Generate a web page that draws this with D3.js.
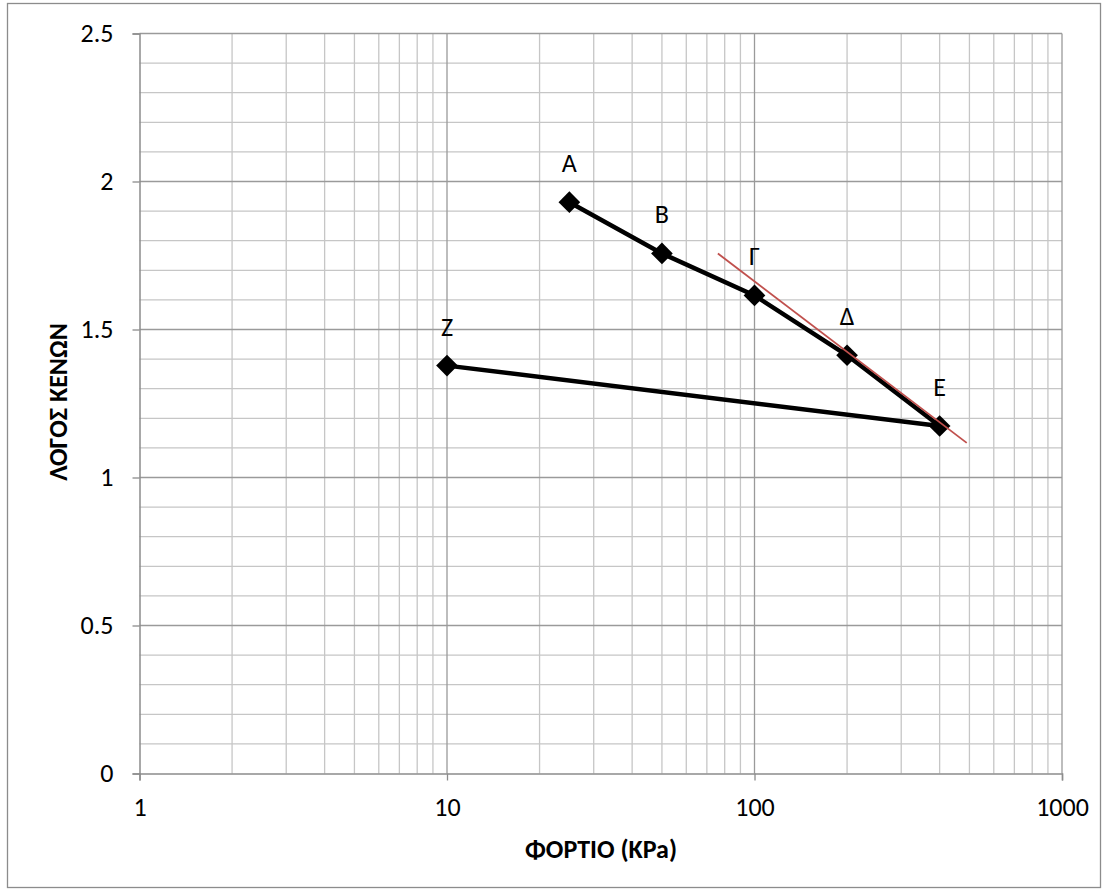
<!DOCTYPE html>
<html>
<head>
<meta charset="utf-8">
<script src="https://cdn.jsdelivr.net/npm/d3@7"></script>
<style>
  body { margin: 0; background: #fff; }
  text { font-family: Carlito, Calibri, "Noto Sans", sans-serif; }
</style>
</head>
<body>
<svg width="1107" height="892"></svg>
<script>
// point labels, loads (kPa) and void ratios
var labels = ["A", "B", "Γ", "Δ", "E", "Z"];
var loads  = [25, 50, 100, 200, 400, 10];
var voids  = [1.93, 1.757, 1.615, 1.413, 1.174, 1.378];

// red tangent line end points
var tangentX = [76, 490];
var tangentY = [1.757, 1.117];

var xTicks = [1, 10, 100, 1000];
var yTicks = [0, 0.5, 1, 1.5, 2, 2.5];

var FS = 26;

var svg = d3.select("svg");

// outer frame
svg.append("rect")
  .attr("x", 7.5).attr("y", 3.5)
  .attr("width", 1093).attr("height", 884)
  .attr("fill", "#fff")
  .attr("stroke", "#8c8c8c")
  .attr("stroke-width", 1.3);

var x = d3.scaleLog().domain([1, 1000]).range([139.5, 1062]);
var y = d3.scaleLinear().domain([0, 2.5]).range([773.5, 33.5]);

var grid = svg.append("g");

// minor x grid 2..9 in each decade
var minorX = [];
[1, 10, 100].forEach(function (d) {
  for (var k = 2; k <= 9; k++) minorX.push(d * k);
});
grid.selectAll(".mx").data(minorX).enter().append("line")
  .attr("x1", function (d) { return x(d); })
  .attr("x2", function (d) { return x(d); })
  .attr("y1", y(0)).attr("y2", y(2.5))
  .attr("stroke", "#c6c6c6").attr("stroke-width", 1.3);

// minor y grid every 0.1
var minorY = d3.range(1, 25).filter(function (i) { return i % 5 !== 0; }).map(function (i) { return i / 10; });
grid.selectAll(".my").data(minorY).enter().append("line")
  .attr("x1", x(1)).attr("x2", x(1000))
  .attr("y1", function (d) { return y(d); })
  .attr("y2", function (d) { return y(d); })
  .attr("stroke", "#c6c6c6").attr("stroke-width", 1.3);

// major grid
grid.selectAll(".Mx").data(xTicks.slice(1)).enter().append("line")
  .attr("x1", function (d) { return x(d); })
  .attr("x2", function (d) { return x(d); })
  .attr("y1", y(0)).attr("y2", y(2.5))
  .attr("stroke", "#9a9a9a").attr("stroke-width", 1.3);
grid.selectAll(".My").data(yTicks.slice(1)).enter().append("line")
  .attr("x1", x(1)).attr("x2", x(1000))
  .attr("y1", function (d) { return y(d); })
  .attr("y2", function (d) { return y(d); })
  .attr("stroke", "#9a9a9a").attr("stroke-width", 1.3);

// axes
var xAxis = svg.append("g")
  .attr("transform", "translate(0," + y(0) + ")")
  .call(d3.axisBottom(x).tickValues(xTicks).tickFormat(d3.format("d"))
    .tickSize(7).tickPadding(17));
var yAxis = svg.append("g")
  .attr("transform", "translate(" + x(1) + ",0)")
  .call(d3.axisLeft(y).tickValues(yTicks).tickFormat(function (d) { return d; })
    .tickSize(7).tickPadding(19));
[xAxis, yAxis].forEach(function (a) {
  a.attr("font-family", null).attr("font-size", null);
  a.select(".domain").attr("stroke", "#8c8c8c").attr("stroke-width", 1.5);
  a.selectAll(".tick line").attr("stroke", "#8c8c8c").attr("stroke-width", 1.3);
  a.selectAll(".tick text").attr("font-size", FS).attr("fill", "#000");
});

// axis titles
svg.append("text")
  .attr("x", 601).attr("y", 858)
  .attr("text-anchor", "middle")
  .attr("font-size", FS).attr("font-weight", "bold")
  .text("ΦΟΡΤΙΟ (KPa)");
svg.append("text")
  .attr("transform", "translate(67,402) rotate(-90)")
  .attr("text-anchor", "middle")
  .attr("font-size", FS).attr("font-weight", "bold")
  .text("ΛΟΓΟΣ ΚΕΝΩΝ");

var pts = loads.map(function (d, i) { return [d, voids[i], labels[i]]; });

// data line
svg.append("path")
  .datum(pts)
  .attr("fill", "none")
  .attr("stroke", "#000")
  .attr("stroke-width", 4.5)
  .attr("d", d3.line().x(function (d) { return x(d[0]); }).y(function (d) { return y(d[1]); }));

// markers
svg.selectAll(".pt").data(pts).enter().append("path")
  .attr("d", d3.symbol().type(d3.symbolDiamond2).size(300))
  .attr("transform", function (d) { return "translate(" + x(d[0]) + "," + y(d[1]) + ")"; })
  .attr("fill", "#000");

// tangent line
svg.append("line")
  .attr("x1", x(tangentX[0])).attr("y1", y(tangentY[0]))
  .attr("x2", x(tangentX[1])).attr("y2", y(tangentY[1]))
  .attr("stroke", "#c0504d").attr("stroke-width", 1.8);

// point labels
svg.selectAll(".lbl").data(pts).enter().append("text")
  .attr("x", function (d) { return x(d[0]); })
  .attr("y", function (d) { return y(d[1]) - 30; })
  .attr("text-anchor", "middle")
  .attr("font-size", FS)
  .text(function (d) { return d[2]; });
</script>
</body>
</html>
